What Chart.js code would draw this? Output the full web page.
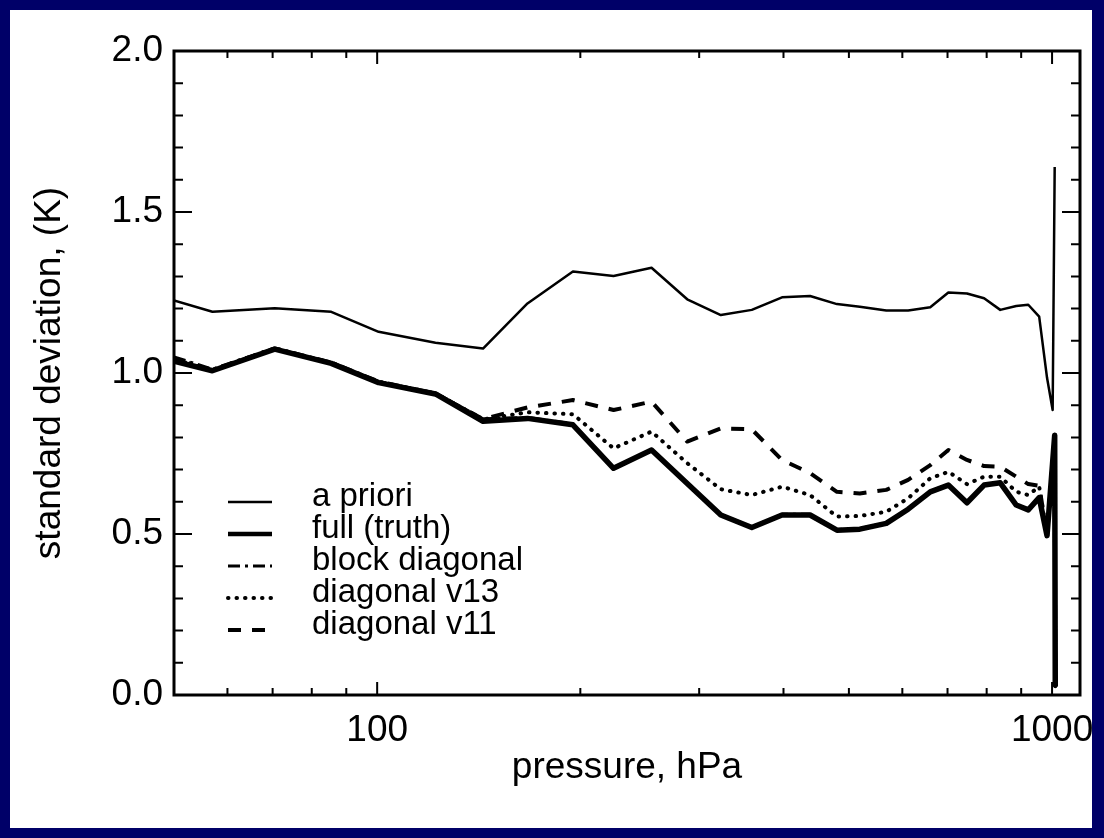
<!DOCTYPE html>
<html>
<head>
<meta charset="utf-8">
<script src="https://cdn.jsdelivr.net/npm/chart.js@4/dist/chart.umd.min.js"></script>
<style>
  html, body { margin: 0; padding: 0; }
  body { width: 1104px; height: 838px; background: #000068; position: relative; overflow: hidden; }
  #panel { position: absolute; left: 10px; top: 10px; width: 1082px; height: 818px; background: #fff; }
  #c { position: absolute; left: 0; top: 0; }
</style>
</head>
<body>
<div id="panel"></div>
<canvas id="c" width="1104" height="838"></canvas>
<script>
const FONT = "'Liberation Sans', Arial, sans-serif";

// pressure levels, hPa
const pressure = [50, 57, 70.5, 85.5, 100.5, 122, 143.5, 167, 195, 224, 255, 288, 323, 359, 398, 438,
  480, 519, 568, 612, 660, 702, 748, 793, 838, 885, 922, 957, 983, 1002, 1009, 1011];

// standard deviation (K)
const aPriori   = [1.225, 1.190, 1.201, 1.190, 1.128, 1.094, 1.076, 1.216, 1.315, 1.301, 1.327, 1.229, 1.180, 1.196, 1.235, 1.239,
  1.214, 1.206, 1.194, 1.194, 1.204, 1.250, 1.247, 1.232, 1.196, 1.208, 1.212, 1.175, 0.985, 0.885, 1.640, null];
const fullTruth = [1.037, 1.007, 1.074, 1.030, 0.970, 0.935, 0.850, 0.859, 0.839, 0.704, 0.761, 0.657, 0.559, 0.520, 0.559, 0.559,
  0.512, 0.515, 0.533, 0.577, 0.631, 0.652, 0.597, 0.652, 0.659, 0.590, 0.575, 0.613, 0.495, null, 0.807, 0.026];
const blockDiag = [1.050, 1.012, 1.078, 1.034, 0.975, 0.938, 0.858, 0.862, 0.842, 0.706, 0.763, 0.659, 0.561, 0.522, 0.561, 0.561,
  0.514, 0.517, 0.535, 0.579, 0.633, 0.654, 0.599, 0.654, 0.661, 0.592, 0.577, 0.615, 0.495, null, 0.807, 0.026];
const diagV13   = [1.045, 1.010, 1.076, 1.032, 0.972, 0.937, 0.856, 0.878, 0.872, 0.766, 0.818, 0.720, 0.639, 0.621, 0.647, 0.621,
  0.554, 0.556, 0.569, 0.611, 0.673, 0.693, 0.655, 0.678, 0.678, 0.631, 0.621, 0.647, 0.495, null, 0.807, 0.026];
const diagV11   = [1.043, 1.008, 1.075, 1.031, 0.971, 0.936, 0.857, 0.893, 0.916, 0.885, 0.911, 0.787, 0.828, 0.825, 0.730, 0.689,
  0.631, 0.626, 0.637, 0.668, 0.714, 0.761, 0.730, 0.711, 0.709, 0.678, 0.655, 0.650, 0.495, null, 0.807, 0.026];

const seriesNames = ["a priori", "full (truth)", "block diagonal", "diagonal v13", "diagonal v11"];

const xMajorTicks = [100, 1000];
const xMinorTicks = [50, 60, 70, 80, 90, 200, 300, 400, 500, 600, 700, 800, 900];

const pts = vals => pressure.map((p, i) => ({ x: p, y: vals[i] }));

// IDL style ticks: pointing inward, on all four sides
const inwardTicks = {
  id: "inwardTicks",
  afterDatasetsDraw(chart) {
    const { ctx, chartArea: a, scales: { x, y } } = chart;
    ctx.save();
    ctx.strokeStyle = "#000";
    ctx.lineWidth = 2;
    ctx.beginPath();
    x.ticks.forEach(t => {
      const px = x.getPixelForValue(t.value);
      const len = xMajorTicks.includes(t.value) ? 13 : 7;
      ctx.moveTo(px, a.bottom); ctx.lineTo(px, a.bottom - len);
      ctx.moveTo(px, a.top); ctx.lineTo(px, a.top + len);
    });
    y.ticks.forEach(t => {
      const py = y.getPixelForValue(t.value);
      const len = Math.round(t.value * 10) % 5 === 0 ? 18 : 9;
      ctx.moveTo(a.left, py); ctx.lineTo(a.left + len, py);
      ctx.moveTo(a.right, py); ctx.lineTo(a.right - len, py);
    });
    ctx.stroke();
    ctx.lineWidth = 3;
    ctx.strokeRect(a.left, a.top, a.right - a.left, a.bottom - a.top);
    ctx.restore();
  }
};

// legend inside the plot, lower left
const boxLegend = {
  id: "boxLegend",
  afterDraw(chart) {
    const ctx = chart.ctx;
    ctx.save();
    ctx.font = "33px " + FONT;
    ctx.fillStyle = "#000";
    ctx.textBaseline = "middle";
    chart.data.datasets.forEach((ds, i) => {
      const yy = 502 + i * 32;
      ctx.strokeStyle = "#000";
      ctx.lineWidth = Math.min(ds.borderWidth, 4.5);
      ctx.lineCap = ds.borderCapStyle || "butt";
      ctx.setLineDash(ds.borderDash || []);
      ctx.beginPath();
      ctx.moveTo(228, yy);
      ctx.lineTo(272, yy);
      ctx.stroke();
      ctx.setLineDash([]);
      ctx.fillText(ds.label, 312, yy - 5);
    });
    ctx.restore();
  }
};

const base = { pointRadius: 0, tension: 0, spanGaps: true, borderColor: "#000", fill: false, borderJoinStyle: "round" };

new Chart(document.getElementById("c"), {
  type: "line",
  data: {
    datasets: [
      { ...base, label: seriesNames[0], data: pts(aPriori), borderWidth: 2.5 },
      { ...base, label: seriesNames[1], data: pts(fullTruth), borderWidth: 5.5 },
      { ...base, label: seriesNames[2], data: pts(blockDiag), borderWidth: 3, borderDash: [12, 5, 3, 5] },
      { ...base, label: seriesNames[3], data: pts(diagV13), borderWidth: 4, borderDash: [0.5, 8], borderCapStyle: "round" },
      { ...base, label: seriesNames[4], data: pts(diagV11), borderWidth: 4, borderDash: [13, 11] }
    ]
  },
  options: {
    responsive: false,
    animation: false,
    devicePixelRatio: 1,
    layout: { padding: { top: 51, right: 24, left: 0, bottom: 0 } },
    plugins: { legend: { display: false }, tooltip: { enabled: false } },
    scales: {
      x: {
        type: "logarithmic",
        min: 50,
        max: 1100,
        grid: { display: false, drawTicks: false },
        border: { display: false },
        afterBuildTicks: s => { s.ticks = [...xMinorTicks, ...xMajorTicks].sort((a, b) => a - b).map(v => ({ value: v })); },
        afterFit: s => { s.height = 143; s.paddingLeft = 0; s.paddingRight = 0; },
        ticks: {
          autoSkip: false,
          maxRotation: 0,
          padding: 14,
          color: "#000",
          font: { family: FONT, size: 37 },
          callback: v => xMajorTicks.includes(v) ? String(v) : ""
        },
        title: { display: true, text: "pressure, hPa", color: "#000", font: { family: FONT, size: 37 }, padding: { top: 0, bottom: 48 } }
      },
      y: {
        min: 0,
        max: 2,
        grid: { display: false, drawTicks: false },
        border: { display: false },
        afterFit: s => { s.width = 174; s.paddingTop = 0; s.paddingBottom = 0; },
        ticks: {
          stepSize: 0.1,
          autoSkip: false,
          padding: 11,
          color: "#000",
          font: { family: FONT, size: 37 },
          callback: v => Math.round(v * 10) % 5 === 0 ? v.toFixed(1) : ""
        },
        title: { display: true, text: "standard deviation, (K)", color: "#000", font: { family: FONT, size: 37 }, padding: { top: 28, bottom: 0 } }
      }
    }
  },
  plugins: [inwardTicks, boxLegend]
});
</script>
</body>
</html>
